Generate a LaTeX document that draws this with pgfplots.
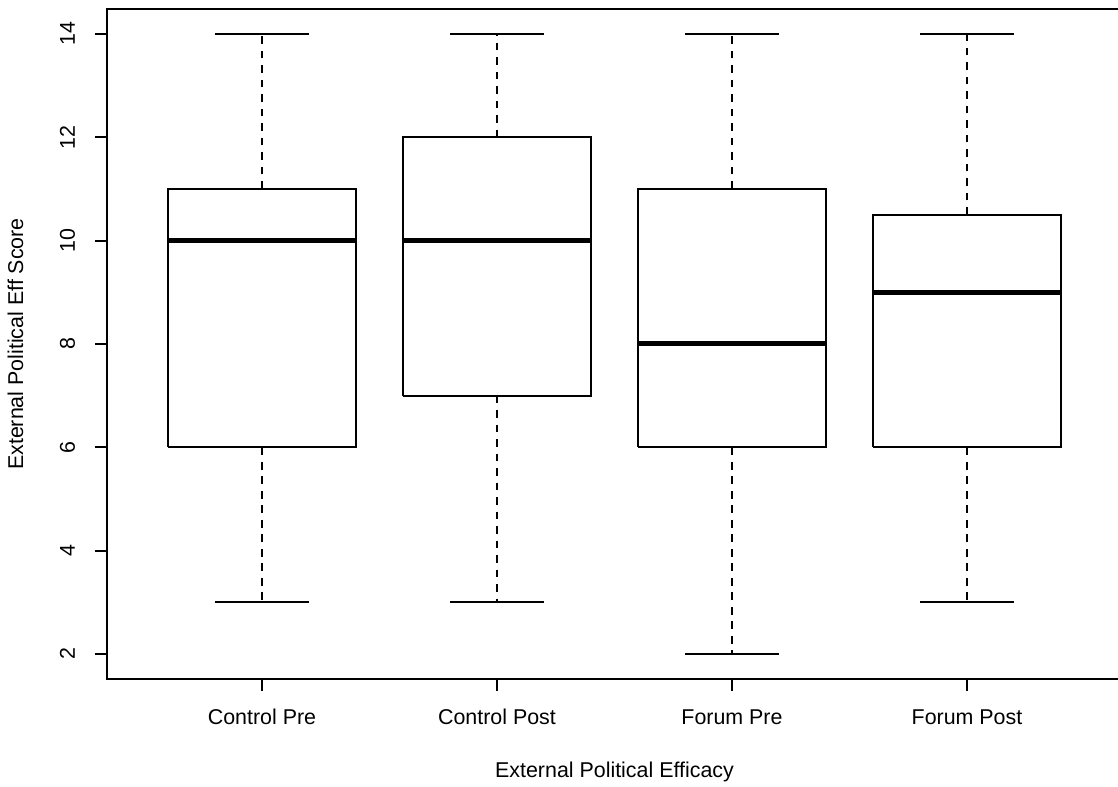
\documentclass[border=0pt]{standalone}
\usepackage{fontspec}
\setmainfont{Liberation Sans}
\usepackage{pgfplots}
\pgfplotsset{compat=1.18}
\pgfplotsset{
  bx/.style={black, line width=0.85bp, mark=none, line join=miter},
  wh/.style={black, line width=0.85bp, mark=none, dash pattern=on 3.9bp off 3.35bp},
  md/.style={black, line width=2.5bp, mark=none},
}
\begin{document}
\fontsize{10.7bp}{12.8bp}\selectfont
\begin{tikzpicture}
\begin{axis}[
  scale only axis,
  width=507.6bp, height=334.8bp,
  xmin=0.34, xmax=4.66, ymin=1.52, ymax=14.48,
  xtick={1,2,3,4},
  xticklabels={Control Pre,Control Post,Forum Pre,Forum Post},
  ytick={2,4,6,8,10,12,14},
  tick pos=left,
  tick align=outside,
  major tick length=6bp,
  every tick/.style={black, line width=0.85bp},
  axis line style={black, line width=0.85bp},
  /pgf/number format/assume math mode=true,
  tick label style={font=\fontsize{10.7bp}{12.8bp}\selectfont, inner sep=0pt},
  xticklabel style={anchor=base},
  yticklabel style={rotate=90, anchor=base},
  xticklabel shift=16.6bp,
  yticklabel shift=9.95bp,
  xlabel={External Political Efficacy},
  ylabel={External Political Eff Score},
  label style={font=\fontsize{10.7bp}{12.8bp}\selectfont, inner sep=0pt},
  xlabel style={at={(axis description cs:0.5,-0.1481)}, anchor=base},
  ylabel style={at={(axis description cs:-0.0826,0.5)}, anchor=base},
]
% Control Pre: whiskers 3-14, box 6-11, median 10
\addplot[wh] coordinates {(1,11) (1,14)};
\addplot[wh] coordinates {(1,6) (1,3)};
\addplot[bx] coordinates {(0.8,14) (1.2,14)};
\addplot[bx] coordinates {(0.8,3) (1.2,3)};
\addplot[bx] coordinates {(0.6,6) (1.4,6) (1.4,11) (0.6,11) (0.6,6)};
\addplot[md] coordinates {(0.6,10) (1.4,10)};
% Control Post: whiskers 3-14, box 7-12, median 10
\addplot[wh] coordinates {(2,12) (2,14)};
\addplot[wh] coordinates {(2,7) (2,3)};
\addplot[bx] coordinates {(1.8,14) (2.2,14)};
\addplot[bx] coordinates {(1.8,3) (2.2,3)};
\addplot[bx] coordinates {(1.6,7) (2.4,7) (2.4,12) (1.6,12) (1.6,7)};
\addplot[md] coordinates {(1.6,10) (2.4,10)};
% Forum Pre: whiskers 2-14, box 6-11, median 8
\addplot[wh] coordinates {(3,11) (3,14)};
\addplot[wh] coordinates {(3,6) (3,2)};
\addplot[bx] coordinates {(2.8,14) (3.2,14)};
\addplot[bx] coordinates {(2.8,2) (3.2,2)};
\addplot[bx] coordinates {(2.6,6) (3.4,6) (3.4,11) (2.6,11) (2.6,6)};
\addplot[md] coordinates {(2.6,8) (3.4,8)};
% Forum Post: whiskers 3-14, box 6-10.5, median 9
\addplot[wh] coordinates {(4,10.5) (4,14)};
\addplot[wh] coordinates {(4,6) (4,3)};
\addplot[bx] coordinates {(3.8,14) (4.2,14)};
\addplot[bx] coordinates {(3.8,3) (4.2,3)};
\addplot[bx] coordinates {(3.6,6) (4.4,6) (4.4,10.5) (3.6,10.5) (3.6,6)};
\addplot[md] coordinates {(3.6,9) (4.4,9)};
\end{axis}
\pgfresetboundingbox
\path[use as bounding box] (-53.45bp,-54.1bp) rectangle (505.55bp,339.4bp);
\end{tikzpicture}
\end{document}
